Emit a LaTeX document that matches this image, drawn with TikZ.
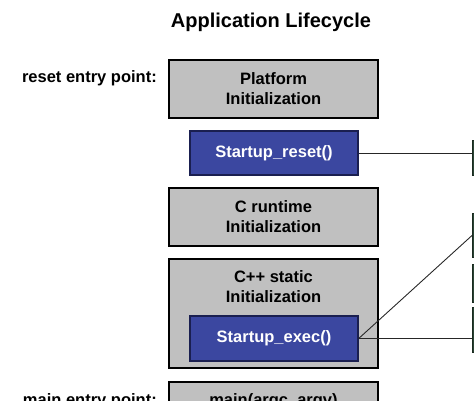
\documentclass[tikz,border=0pt]{standalone}
\usepackage{fontspec}
\setmainfont{Liberation Sans}
\begin{document}
\begin{tikzpicture}[x=1pt,y=-1pt,
  graybox/.style={draw=black,line width=1.6pt,fill=boxgray,minimum width=209pt,inner sep=0pt,align=center,font=\fontsize{16.5}{20}\selectfont\bfseries},
  bluebox/.style={draw=bluedark,line width=1.4pt,fill=boxblue,minimum width=168pt,inner sep=0pt,text=white,font=\fontsize{16.5}{20}\selectfont\bfseries},
  greenbox/.style={draw=greendark,line width=1pt,fill=greenfill,minimum width=18pt,anchor=north west,inner sep=0pt},
  lbl/.style={anchor=base east,inner sep=0pt,font=\fontsize{16.5}{20}\selectfont\bfseries},
  conn/.style={draw=black!85,line width=0.9pt}]
\definecolor{boxgray}{HTML}{C0C0C0}
\definecolor{boxblue}{HTML}{3B47A0}
\definecolor{bluedark}{HTML}{1A1F50}
\definecolor{greenfill}{HTML}{2A4434}
\definecolor{greendark}{HTML}{1A2A20}
\useasboundingbox (0,0) rectangle (474,401);
\clip (0,0) rectangle (474,401);
\node[anchor=base,inner sep=0pt,font=\fontsize{20}{24}\selectfont\bfseries] (title) at (271,28) {Application Lifecycle};
\node[lbl] (lreset) at (157,83) {reset entry point:};
\node[graybox,minimum height=58pt] (plat) at (273.5,89) {Platform\\Initialization};
\node[bluebox,minimum height=44pt] (reset) at (274,153) {Startup\_reset()};
\node[graybox,minimum height=58pt] (crt) at (273.5,217) {C runtime\\Initialization};
\node[graybox,minimum height=109pt] (cpp) at (273.5,313.5) {};
\node[anchor=base,inner sep=0pt,align=center,font=\fontsize{16.5}{20}\selectfont\bfseries] (cpptext) at (273.5,302) {C++ static\\Initialization};
\node[bluebox,minimum height=45pt] (exec) at (274,338.5) {Startup\_exec()};
\node[lbl] (lmain) at (157,405) {main entry point:};
\node[graybox,minimum height=44pt,anchor=north] (main) at (273.5,381) {};
\node[anchor=base,inner sep=0pt,font=\fontsize{16.5}{20}\selectfont\bfseries] (maintext) at (273.5,405) {main(argc, argv)};
\node[greenbox,minimum height=35pt] (r1) at (472,140) {};
\node[greenbox,minimum height=44pt] (r2) at (472,213) {};
\node[greenbox,minimum height=38pt] (r3) at (472,264) {};
\node[greenbox,minimum height=45pt] (r4) at (472,307) {};
\draw[conn] (reset.east) -- (reset.east -| r1.west);
\draw[conn] (exec.east) -- (r2.west);
\draw[conn] (exec.east) -- (exec.east -| r4.west);
\end{tikzpicture}
\end{document}
